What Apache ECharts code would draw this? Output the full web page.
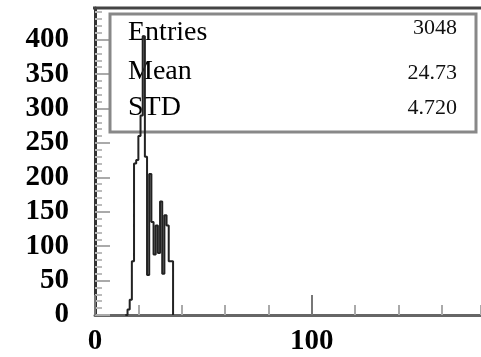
<!DOCTYPE html>
<html>
<head>
<meta charset="utf-8">
<script src="https://cdn.jsdelivr.net/npm/echarts@6/dist/echarts.min.js"></script>
<style>
  html, body { margin: 0; padding: 0; background: #fff; }
  #chart { width: 481px; height: 357px; }
</style>
</head>
<body>
<div id="chart"></div>
<script>
// bin lower edges and counts
var binEdges = [14, 15, 16, 17, 18, 19, 20, 21, 22, 23, 24, 25, 26, 27, 28, 29, 30, 31, 32, 33, 34, 35, 36];
var binCounts = [0, 8, 22, 78, 220, 225, 260, 290, 405, 230, 58, 205, 135, 88, 130, 90, 165, 60, 145, 130, 78, 78, 0];

var statNames = ['Entries', 'Mean', 'STD'];
var statValues = ['3048', '24.73', '4.720'];

var xMin = 0, xMax = 178;
var yMin = 0, yMax = 446;

var chart = echarts.init(document.getElementById('chart'));

var histData = [];
for (var i = 0; i < binEdges.length; i++) {
    histData.push([binEdges[i], binCounts[i]]);
}

var serif = '"Liberation Serif", "DejaVu Serif", serif';

// stats box texts
var statY = [33, 72, 108];
var valY = [28, 73, 108];
var statGraphics = [];
for (var k = 0; k < statNames.length; k++) {
    statGraphics.push({
        type: 'text', left: 128, top: statY[k] - 14, z: 5,
        style: { text: statNames[k], font: '28px ' + serif, fill: '#000' }
    });
    statGraphics.push({
        type: 'text', right: 481 - 457, top: valY[k] - 11, z: 5,
        style: { text: statValues[k], font: '22px ' + serif, fill: '#111', textAlign: 'right' }
    });
}

var option = {
    animation: false,
    backgroundColor: '#fff',
    grid: { left: 95, right: 0, top: 8, bottom: 42 },
    xAxis: [
        {
            type: 'value', position: 'bottom', offset: 0,
            min: xMin, max: xMax, interval: 20,
            axisLine: { show: true, lineStyle: { color: '#666', width: 3 } },
            axisTick: { show: true, inside: true, length: 10, lineStyle: { color: '#aaa', width: 2 } },
            axisLabel: { show: false },
            splitLine: { show: false }
        },
        {
            type: 'value', position: 'bottom', offset: 0,
            min: xMin, max: xMax, interval: 100,
            axisLine: { show: false },
            axisTick: { show: true, inside: true, length: 20, lineStyle: { color: '#777', width: 2 } },
            axisLabel: {
                show: true, margin: 12, showMaxLabel: false,
                fontFamily: serif, fontWeight: 'bold', fontSize: 29, color: '#000'
            },
            splitLine: { show: false }
        }
    ],
    yAxis: [
        {
            type: 'value', position: 'left', offset: 0,
            min: yMin, max: yMax, interval: 10,
            axisLine: { show: true, lineStyle: { color: '#333', width: 3 } },
            axisTick: { show: true, inside: true, length: 7, lineStyle: { color: '#bbb', width: 2 } },
            axisLabel: { show: false },
            splitLine: { show: false }
        },
        {
            type: 'value', position: 'left', offset: 0,
            min: yMin, max: yMax, interval: 50,
            axisLine: { show: false },
            axisTick: { show: true, inside: true, length: 15, lineStyle: { color: '#aaa', width: 2 } },
            axisLabel: {
                show: true, margin: 26, showMaxLabel: false,
                fontFamily: serif, fontWeight: 'bold', fontSize: 29, color: '#000'
            },
            splitLine: { show: false }
        }
    ],
    graphic: [
        // frame top
        { type: 'line', z: 3, shape: { x1: 93, y1: 8, x2: 481, y2: 8 }, style: { stroke: '#444', lineWidth: 3 } },
        // stats box
        { type: 'rect', z: 3, shape: { x: 110, y: 14, width: 366, height: 118 }, style: { fill: 'none', stroke: '#888', lineWidth: 3 } }
    ].concat(statGraphics),
    series: [
        {
            type: 'line',
            xAxisIndex: 0, yAxisIndex: 0,
            step: 'end',
            data: histData,
            symbol: 'none',
            z: 10,
            lineStyle: { color: '#222', width: 2 }
        }
    ]
};

chart.setOption(option);
</script>
</body>
</html>
